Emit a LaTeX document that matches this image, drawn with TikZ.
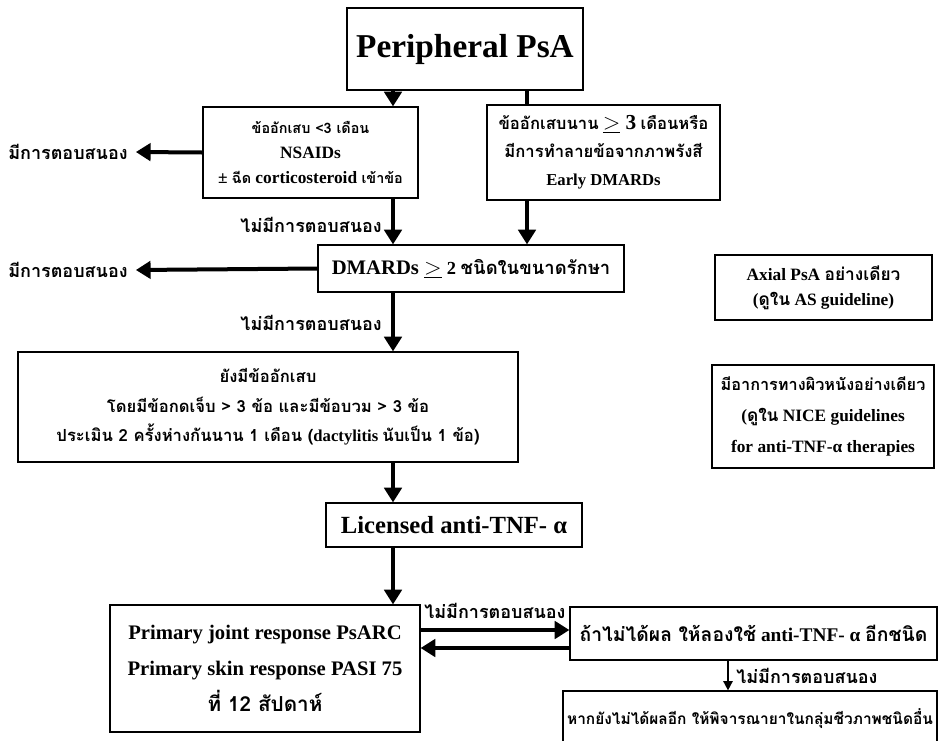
\documentclass[tikz,border=0pt]{standalone}
\usepackage{fontspec}
\setmainfont{Liberation Serif}
\newfontfamily\thai[Script=Thai]{Loma}
\usetikzlibrary{arrows.meta}
\newcommand{\T}[1]{{\thai #1}}
\newcommand{\geqmark}{$\underline{>}$}
\tikzset{
  wh/.style 2 args={minimum width={#1*0.75pt}, minimum height={#2*0.75pt}},
  box/.style={draw, line width=0.9pt, fill=white, align=center, inner sep=0pt, font=\bfseries\fontsize{11}{19}\selectfont},
  arr/.style={line width=3pt, -{Triangle[width=13pt,length=11pt]}},
  plain/.style={line width=3pt},
  thin arr/.style={line width=1.2pt, -{Triangle[width=7pt,length=7pt]}},
  lbl/.style={inner sep=0pt, font=\bfseries\thai\fontsize{13.5}{15}\selectfont},
}
\begin{document}
\begin{tikzpicture}[x=0.75pt,y=-0.75pt]
\useasboundingbox (0,0) rectangle (939,740);
\fill[white] (0,0) rectangle (939,740);

\node[box, wh={236}{82}, font=\bfseries\fontsize{25}{30}\selectfont] (P) at (465,49) {Peripheral PsA};
\node[box, wh={215}{91}, font=\bfseries\fontsize{13}{19}\selectfont] (L1) at (310.5,152.5) {{\thai\fontsize{10.8}{12}\selectfont ข้ออักเสบ <3 เดือน}\\ NSAIDs\\ ± {\thai\fontsize{10.8}{12}\selectfont ฉีด} corticosteroid {\thai\fontsize{10.8}{12}\selectfont เข้าข้อ}};
\node[box, wh={233}{95}, font=\bfseries\fontsize{12.5}{21}\selectfont] (R1) at (603.5,152.5) {\T{ข้ออักเสบนาน} {\fontsize{16}{19}\selectfont\geqmark\ 3} \T{เดือนหรือ}\\ \T{มีการทำลายข้อจากภาพรังสี}\\ Early DMARDs};
\node[box, wh={306}{47}, font=\bfseries\fontsize{15.5}{16}\selectfont] (D) at (471,268.5) {DMARDs {\fontsize{18}{17}\selectfont\geqmark} {\fontsize{13.8}{13}\selectfont 2 \T{ชนิดในขนาดรักษา}}};
\node[box, wh={500}{110}, font=\bfseries\fontsize{12.5}{22}\selectfont] (B) at (268,407) {\T{ยังมีข้ออักเสบ}\\ \T{โดยมีข้อกดเจ็บ > 3 ข้อ และมีข้อบวม > 3 ข้อ}\\ \T{ประเมิน 2 ครั้งห่างกันนาน 1 เดือน (}dactylitis \T{นับเป็น 1 ข้อ)}};
\node[box, wh={217}{65}, font=\bfseries\fontsize{13}{19}\selectfont] (AX) at (823.5,287.5) {Axial PsA \T{อย่างเดียว}\\ (\T{ดูใน} AS guideline)};
\node[box, wh={222}{103}, font=\bfseries\fontsize{13}{23}\selectfont] (SK) at (823,416.5) {{\thai\fontsize{12.2}{14}\selectfont มีอาการทางผิวหนังอย่างเดียว}\\ (\T{ดูใน} NICE guidelines\\ for anti-TNF-α therapies};
\node[box, wh={256}{44}, font=\bfseries\fontsize{18.5}{20}\selectfont] (LI) at (454,525) {Licensed anti-TNF- α};
\node[box, wh={310}{127}, font=\bfseries\fontsize{15.5}{27}\selectfont] (BL) at (265,668.5) {Primary joint response PsARC\\ Primary skin response PASI 75\\ \T{ที่ 12 สัปดาห์}};
\node[box, wh={367}{53}, font=\bfseries\fontsize{14.5}{16}\selectfont] (B1) at (753.5,633.5) {\T{ถ้าไม่ได้ผล ให้ลองใช้} anti-TNF- α \T{อีกชนิด}};
\node[box, wh={374}{56}, font=\bfseries\fontsize{11.6}{16}\selectfont] (B2) at (750,719) {\T{หากยังไม่ได้ผลอีก ให้พิจารณายาในกลุ่มชีวภาพชนิดอื่น}};

% labels
\node[lbl, anchor=west] (r1) at (8,152) {มีการตอบสนอง};
\node[lbl, anchor=west] (r2) at (8,270) {มีการตอบสนอง};
\node[lbl, anchor=east] (n1) at (382,225) {ไม่มีการตอบสนอง};
\node[lbl, anchor=east] (n2) at (382,323) {ไม่มีการตอบสนอง};
\node[lbl, anchor=west] (n3) at (424,611) {ไม่มีการตอบสนอง};
\node[lbl, anchor=west] (n4) at (736,676) {ไม่มีการตอบสนอง};

\coordinate (xa) at (393,0);
\coordinate (xb) at (527,0);
\coordinate (xc) at (728,0);
\coordinate (ya) at (0,630);
\coordinate (yb) at (0,648);

\draw[arr] (xa |- P.south) -- (xa |- L1.north);
\draw[plain] (xb |- P.south) -- (xb |- R1.north);
\draw[arr] (L1.west) -- ([xshift=6pt]r1.east);
\draw[arr] (xa |- L1.south) -- (xa |- D.north);
\draw[arr] (xb |- R1.south) -- (xb |- D.north);
\draw[arr] (D.west) -- ([xshift=6pt]r2.east);
\draw[arr] (xa |- D.south) -- (xa |- B.north);
\draw[arr] (xa |- B.south) -- (xa |- LI.north);
\draw[arr] (xa |- LI.south) -- (xa |- BL.north);
\draw[arr] (BL.east |- ya) -- (B1.west |- ya);
\draw[arr] (B1.west |- yb) -- (BL.east |- yb);
\draw[thin arr] (xc |- B1.south) -- (xc |- B2.north);
\end{tikzpicture}
\end{document}
